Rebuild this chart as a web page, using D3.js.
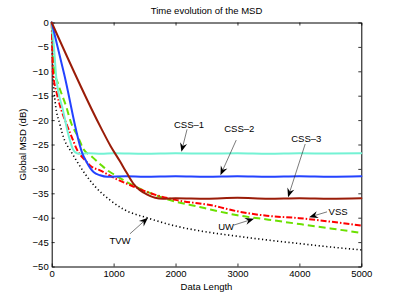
<!DOCTYPE html>
<html>
<head>
<meta charset="utf-8">
<script src="https://cdn.jsdelivr.net/npm/d3@7"></script>
<style>
  body { margin: 0; background: #fff; }
  svg text { font-family: "Liberation Sans", Arial, sans-serif; fill: #000; }
</style>
</head>
<body>
<svg id="chart" width="399" height="300"></svg>
<script>
// curve samples: [data length, MSD dB]
const tvw = [[0,0],[20,-10],[59,-16.6],[129,-20.7],[210,-24.2],[296,-26.1],[400,-28.3],[538,-31],[700,-33.6],[943,-36.4],[1150,-38.2],[1561,-40.1],[2000,-41.7],[2396,-42.7],[3000,-43.8],[3500,-44.6],[4000,-45.3],[4500,-46],[5000,-46.6]];
const uw = [[0,0],[15,-4],[45,-10],[102,-12.5],[236,-17.3],[317,-20.7],[425,-23.4],[506,-25.8],[650,-27.5],[780,-29],[900,-30.3],[1000,-31.1],[1318,-33.4],[1700,-35.5],[2000,-36.7],[2390,-37.8],[2557,-38.3],[3000,-39.5],[3500,-40.4],[4000,-41.3],[4500,-42.2],[5000,-43.1]];
const vss = [[0,0],[10,-5],[20,-10],[90,-14.9],[155,-17.9],[236,-20.7],[344,-24.1],[398,-25.8],[538,-28.2],[650,-29.6],[780,-30.3],[1000,-31.8],[1318,-33.6],[1600,-35],[2019,-36.4],[2390,-37.1],[2557,-37.4],[3000,-38.7],[3473,-39.6],[4000,-40.1],[4500,-40.8],[5000,-41.6]];
const css1 = [[0,0],[30,-4],[75,-11.4],[183,-18],[280,-23.5],[344,-26],[380,-26.6],[450,-26.9],[600,-26.8],[800,-26.9],[1000,-26.8],[1500,-26.9],[2000,-26.8],[2500,-26.85],[3000,-26.8],[3500,-26.9],[4000,-26.8],[4500,-26.85],[5000,-26.8]];
const css2 = [[0,0],[200,-10.5],[510,-27.3],[560,-28.5],[620,-29.8],[680,-30.7],[780,-31.3],[900,-31.6],[1200,-31.5],[1500,-31.6],[2000,-31.5],[2500,-31.6],[3000,-31.5],[3500,-31.6],[4000,-31.5],[4500,-31.6],[5000,-31.5]];
const css3 = [[0,0],[800,-21.7],[950,-25.3],[1100,-28.4],[1211,-30.8],[1318,-33],[1420,-34.3],[1535,-35.2],[1670,-35.9],[1800,-36.1],[2000,-36],[2500,-36.1],[3000,-35.9],[3500,-36.1],[4000,-36],[4500,-36.1],[5000,-36]];

const xTicks = [0, 1000, 2000, 3000, 4000, 5000];
const yTicks = [0, -5, -10, -15, -20, -25, -30, -35, -40, -45, -50];

// annotation text: label, text centre, arrow start, arrow tip (data units)
const labels = ["CSS\u20131", "CSS\u20132", "CSS\u20133", "VSS", "UW", "TVW"];
const labelPos = [[2218,-20.8],[3029,-21.8],[4111,-23.7],[4625,-38.7],[2817,-41.8],[1103,-44.6]];
const arrowFrom = [[2186,-21.9],[2980,-24.1],[4094,-24.9],[4447,-38.8],[2945,-41.5],[1264,-43.3]];
const arrowTip = [[2095,-26.5],[2725,-31.3],[3817,-35.8],[4157,-39.9],[3268,-40.2],[1555,-40]];

const svg = d3.select("#chart");
const padL = 51.7, padR = 361.3, padT = 22.5, padB = 266.5;

const x = d3.scaleLinear().domain([0, 5000]).range([padL, padR]);
const y = d3.scaleLinear().domain([-50, 0]).range([padB, padT]);

const fmt = d => (d < 0 ? "\u2212" + Math.abs(d) : "" + d);

function styleAxis(g) {
  g.selectAll("path.domain").attr("stroke", "#000").attr("stroke-width", 1);
  g.selectAll(".tick line").attr("stroke", "#000").attr("stroke-width", 0.8);
  g.selectAll("text").attr("font-size", "9.5px").attr("fill", "#000");
}

svg.append("g").attr("transform", `translate(0,${padB})`)
  .call(d3.axisBottom(x).tickValues(xTicks).tickSizeInner(-3).tickSizeOuter(0).tickPadding(4).tickFormat(fmt))
  .call(styleAxis);
svg.append("g").attr("transform", `translate(0,${padT})`)
  .call(d3.axisTop(x).tickValues(xTicks).tickSizeInner(-3).tickSizeOuter(0).tickFormat(""))
  .call(styleAxis);
svg.append("g").attr("transform", `translate(${padL},0)`)
  .call(d3.axisLeft(y).tickValues(yTicks).tickSizeInner(-3).tickSizeOuter(0).tickPadding(3).tickFormat(fmt))
  .call(styleAxis);
svg.append("g").attr("transform", `translate(${padR},0)`)
  .call(d3.axisRight(y).tickValues(yTicks).tickSizeInner(-3).tickSizeOuter(0).tickFormat(""))
  .call(styleAxis);

const line = d3.line().x(d => x(d[0])).y(d => y(d[1])).curve(d3.curveMonotoneX);

const series = [
  { data: tvw, color: "#000", width: 1.6, dash: "1.2,2.6", cap: "butt" },
  { data: uw, color: "#6be000", width: 2, dash: "7,4", cap: "butt" },
  { data: vss, color: "#ff0000", width: 2, dash: "6,2,1.5,2", cap: "butt" },
  { data: css1, color: "#74f2d4", width: 2, dash: null, cap: "round" },
  { data: css2, color: "#2342ff", width: 2, dash: null, cap: "round" },
  { data: css3, color: "#9a1c08", width: 2, dash: null, cap: "round" }
];

series.forEach(s => {
  svg.append("path")
    .attr("d", line(s.data))
    .attr("fill", "none")
    .attr("stroke", s.color)
    .attr("stroke-width", s.width)
    .attr("stroke-linecap", s.cap)
    .attr("stroke-dasharray", s.dash);
});

// annotation arrows
labels.forEach((t, i) => {
  const x0 = x(arrowFrom[i][0]), y0 = y(arrowFrom[i][1]);
  const x1 = x(arrowTip[i][0]), y1 = y(arrowTip[i][1]);
  const ang = Math.atan2(y1 - y0, x1 - x0);
  const len = 9, half = 3.6, notch = 6;
  const ux = Math.cos(ang), uy = Math.sin(ang);
  const bx = x1 - ux * len, by = y1 - uy * len;
  const nx = x1 - ux * notch, ny = y1 - uy * notch;
  svg.append("line")
    .attr("x1", x0).attr("y1", y0).attr("x2", nx).attr("y2", ny)
    .attr("stroke", "#222").attr("stroke-width", 0.6);
  svg.append("polygon")
    .attr("points", [[x1, y1], [bx - uy * half, by + ux * half], [nx, ny], [bx + uy * half, by - ux * half]].map(p => p.join(",")).join(" "))
    .attr("fill", "#000");
  svg.append("text")
    .attr("x", x(labelPos[i][0])).attr("y", y(labelPos[i][1]))
    .attr("text-anchor", "middle").attr("dominant-baseline", "central")
    .attr("font-size", "9.5px")
    .text(t);
});

svg.append("text").attr("x", (padL + padR) / 2).attr("y", 14)
  .attr("text-anchor", "middle").attr("font-size", "9.5px")
  .text("Time evolution of the MSD");
svg.append("text").attr("x", (padL + padR) / 2).attr("y", 290)
  .attr("text-anchor", "middle").attr("font-size", "9.5px")
  .text("Data Length");
svg.append("text").attr("transform", `translate(26,${(padT + padB) / 2}) rotate(-90)`)
  .attr("text-anchor", "middle").attr("font-size", "9.5px")
  .text("Global MSD (dB)");
</script>
</body>
</html>
